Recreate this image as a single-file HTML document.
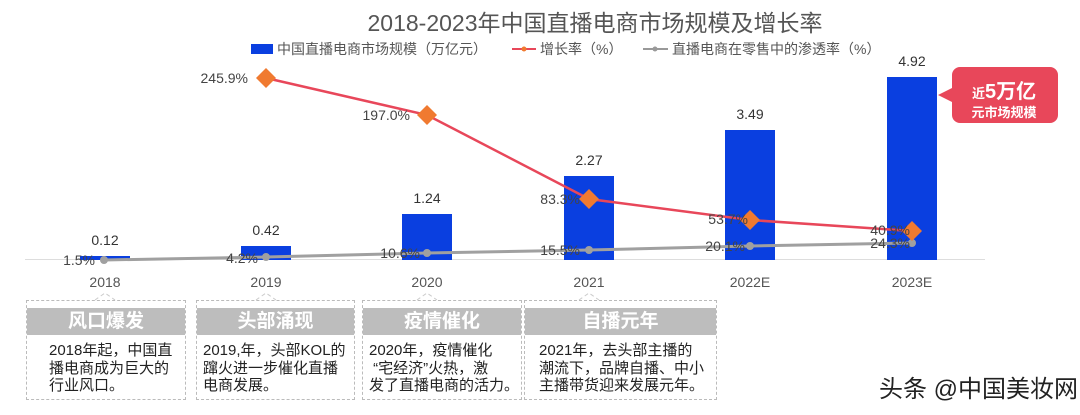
<!DOCTYPE html>
<html><head><meta charset="utf-8"><style>
body{margin:0;background:#fff;width:1080px;height:415px;overflow:hidden;font-family:"Liberation Sans","Noto Sans CJK SC",sans-serif}
.box{position:absolute;top:300px;height:100px;border:1px dashed #bbb;box-sizing:border-box}
.hd{position:absolute;left:0;right:0;top:7px;height:27px;background:#bdbdbd;color:#fff;font-weight:bold;font-size:19px;text-align:center;line-height:27px}
.tx{position:absolute;left:22px;top:41px;font-size:15px;line-height:17.5px;color:#222;white-space:nowrap}
</style></head><body>
<svg width="1080" height="415" style="position:absolute;left:0;top:0" font-family="Liberation Sans, Noto Sans CJK SC, sans-serif">
<text x="595" y="31" font-size="23" fill="#555" text-anchor="middle">2018-2023年中国直播电商市场规模及增长率</text>
<rect x="251" y="44" width="22" height="10" fill="#0a3fe0"/>
<text x="277" y="54" font-size="14" fill="#555">中国直播电商市场规模（万亿元）</text>
<line x1="512" y1="49" x2="536" y2="49" stroke="#e8475a" stroke-width="2"/><circle cx="524" cy="49" r="2.5" fill="#f07a30"/>
<text x="540" y="54" font-size="14" fill="#555">增长率（%）</text>
<line x1="643" y1="49" x2="668" y2="49" stroke="#999" stroke-width="2"/><circle cx="655" cy="49" r="2.5" fill="#999"/>
<text x="672" y="54" font-size="14" fill="#555">直播电商在零售中的渗透率（%）</text>
<line x1="25" y1="259.5" x2="985" y2="259.5" stroke="#ddd" stroke-width="1"/>
<g fill="#0a3fe0">
<rect x="80" y="256" width="50" height="4"/>
<rect x="241" y="246" width="50" height="14"/>
<rect x="402" y="214" width="50" height="46"/>
<rect x="564" y="176" width="50" height="84"/>
<rect x="725" y="130" width="50" height="130"/>
<rect x="887" y="77" width="50" height="183"/>
</g>
<g font-size="14" fill="#333" text-anchor="middle">
<text x="105" y="245">0.12</text><text x="266" y="235">0.42</text><text x="427" y="203">1.24</text>
<text x="589" y="165">2.27</text><text x="750" y="119">3.49</text><text x="912" y="66">4.92</text>
</g>
<polyline points="104,260 266,257 427,253 589,250 750,246 912,243" fill="none" stroke="#a0a0a0" stroke-width="3"/>
<g fill="#a0a0a0"><circle cx="104" cy="260" r="4"/><circle cx="266" cy="257" r="4"/><circle cx="427" cy="253" r="4"/><circle cx="589" cy="250" r="4"/><circle cx="750" cy="246" r="4"/><circle cx="912" cy="243" r="4"/></g>
<polyline points="266,78 427,115 589,199 750,220 912,231" fill="none" stroke="#e8475a" stroke-width="2.5"/>
<g fill="#f07a30"><path d="M266,68 l10,10 l-10,10 l-10,-10z"/><path d="M427,105 l10,10 l-10,10 l-10,-10z"/><path d="M589,189 l10,10 l-10,10 l-10,-10z"/><path d="M750,210 l10,10 l-10,10 l-10,-10z"/><path d="M912,221 l10,10 l-10,10 l-10,-10z"/></g>
<g font-size="14" fill="#444" text-anchor="end">
<text x="248" y="83">245.9%</text><text x="410" y="120">197.0%</text><text x="580" y="204">83.3%</text>
<text x="748" y="224">53.7%</text><text x="910" y="235">40.9%</text>
<text x="95" y="265">1.5%</text><text x="258" y="263">4.2%</text><text x="420" y="258">10.6%</text>
<text x="580" y="255">15.5%</text><text x="745" y="251">20.1%</text><text x="910" y="248">24.3%</text>
</g>
<g font-size="14" fill="#555" text-anchor="middle">
<text x="105" y="287">2018</text><text x="266" y="287">2019</text><text x="427" y="287">2020</text>
<text x="589" y="287">2021</text><text x="750" y="287">2022E</text><text x="912" y="287">2023E</text>
</g>
<g fill="none" stroke="#ccc" stroke-dasharray="4,3">
<polyline points="95,300 105,293 115,300"/><polyline points="256,300 266,293 276,300"/><polyline points="417,300 427,293 437,300"/><polyline points="579,300 589,293 599,300"/>
</g>
<path d="M960,67 H1050 a8,8 0 0 1 8,8 V115 a8,8 0 0 1 -8,8 H960 a8,8 0 0 1 -8,-8 V102 L938,95 L952,88 V75 a8,8 0 0 1 8,-8z" fill="#e8475a"/>
<text x="972" y="98" font-size="13" font-weight="bold" fill="#fff">近<tspan font-size="20">5万亿</tspan></text>
<text x="1004" y="117" font-size="13" font-weight="bold" fill="#fff" text-anchor="middle">元市场规模</text>
<text x="1078" y="397" font-size="24" fill="#222" text-anchor="end">头条 @中国美妆网</text>
</svg>
<div class="box" style="left:26px;width:160px"><div class="hd">风口爆发</div><div class="tx">2018年起，中国直<br>播电商成为巨大的<br>行业风口。</div></div>
<div class="box" style="left:196px;width:159px"><div class="hd">头部涌现</div><div class="tx" style="left:6px">2019,年，头部KOL的<br>蹿火进一步催化直播<br>电商发展。</div></div>
<div class="box" style="left:362px;width:160px"><div class="hd">疫情催化</div><div class="tx" style="left:6px">2020年，疫情催化<br>&nbsp;“宅经济”火热，激<br>发了直播电商的活力。</div></div>
<div class="box" style="left:524px;width:193px"><div class="hd">自播元年</div><div class="tx" style="left:14px">2021年，去头部主播的<br>潮流下，品牌自播、中小<br>主播带货迎来发展元年。</div></div>
</body></html>
